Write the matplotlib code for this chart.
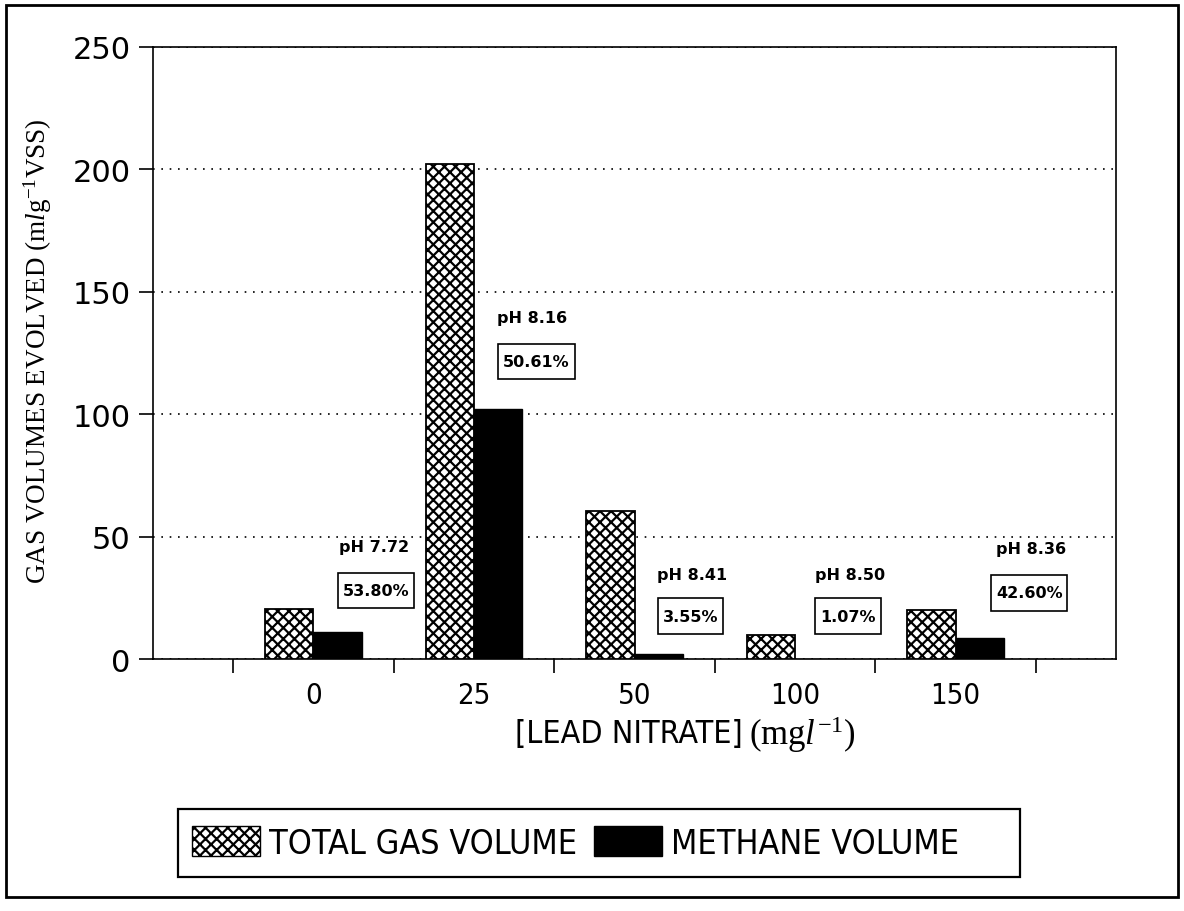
import matplotlib
matplotlib.use('Agg')
import matplotlib.pyplot as plt
from matplotlib.patches import Rectangle, Patch
from matplotlib.path import Path
import numpy as np

# 데이터
concentrations = ['0', '25', '50', '100', '150']
total_gas = [20.4, 202, 60.5, 10, 20]
methane = [11, 102, 2.2, 0.11, 8.6]
ph_labels = ['pH 7.72', 'pH 8.16', 'pH 8.41', 'pH 8.50', 'pH 8.36']
pct_labels = ['53.80%', '50.61%', '3.55%', '1.07%', '42.60%']

# 주석 위치 (그룹 단위 x, 데이터 y)
ph_x = [0.375, 1.36, 2.36, 3.34, 4.47]
pct_x = [0.39, 1.39, 2.35, 3.33, 4.46]
ph_y = [46, 139.5, 34.7, 34.7, 45]
pct_y = [28, 121.5, 17.5, 17.5, 27]

plt.rcParams['hatch.linewidth'] = 1.6
plt.rcParams['mathtext.fontset'] = 'custom'
plt.rcParams['mathtext.rm'] = 'Liberation Serif'
plt.rcParams['mathtext.it'] = 'Liberation Serif:italic'


# 세로로 여백이 큰 사각형 박스
def tall_box(x0, y0, width, height, mutation_size):
    px = 0.3 * mutation_size
    py = 0.65 * mutation_size
    x1, y1 = x0 + width + px, y0 + height + py
    x0, y0 = x0 - px, y0 - py
    return Path([(x0, y0), (x1, y0), (x1, y1), (x0, y1), (x0, y0)], closed=True)


fig = plt.figure(figsize=(11.84, 9.12), dpi=100)
ax = fig.add_axes([0.1292, 0.2763, 0.8134, 0.6711])

x = np.arange(len(concentrations))
w = 0.3
ax.bar(x - w / 2, total_gas, w, facecolor='white', edgecolor='black',
       hatch='xxx', linewidth=1.3, zorder=3)
ax.bar(x + w / 2, methane, w, color='black', edgecolor='black', zorder=3)

ax.set_xlim(-1, 5)
ax.set_ylim(0, 250)
ax.set_yticks(np.arange(0, 251, 50))
ax.set_yticklabels([str(v) for v in range(0, 251, 50)], fontsize=22,
                   family='DejaVu Sans')
ax.yaxis.grid(True, linestyle=(0, (1, 4)), color='black', linewidth=1.2)
ax.set_axisbelow(True)

# x 눈금: 그룹 사이 경계에 틱, 라벨은 그룹 중앙
ax.set_xticks(np.arange(-0.5, 5, 1))
ax.set_xticklabels([])
ax.set_xticks(x, minor=True)
ax.set_xticklabels(concentrations, minor=True, fontsize=21,
                   family='DejaVu Sans', stretch='condensed')
ax.tick_params(axis='x', which='minor', length=0, pad=16)
ax.tick_params(axis='x', which='major', length=10, width=1.2, direction='out')
ax.tick_params(axis='y', length=10, width=1.2, direction='out', pad=6)
for s in ax.spines.values():
    s.set_linewidth(1.2)

# 주석
for i in range(len(concentrations)):
    ax.text(ph_x[i], ph_y[i], ph_labels[i], ha='center', va='center',
            fontsize=11.5, fontweight='bold', family='DejaVu Sans', zorder=4)
    ax.text(pct_x[i], pct_y[i], pct_labels[i], ha='center', va='center',
            fontsize=11.5, fontweight='bold', family='DejaVu Sans', zorder=4,
            bbox=dict(boxstyle=tall_box, facecolor='white',
                      edgecolor='black', linewidth=1.2))

# 축 라벨
fig.text(0.032, 0.615, r'GAS VOLUMES EVOLVED (m$\mathit{l}$g$^{\mathregular{-1}}$VSS)',
         rotation=90, ha='center', va='center', fontsize=19.5,
         family='Liberation Serif')
fig.text(0.6275, 0.195, '[LEAD NITRATE]', ha='right', va='center',
         fontsize=23, family='DejaVu Sans', stretch='condensed')
fig.text(0.633, 0.195, r'(mg$\mathit{l}^{\mathregular{-1}}$)', ha='left',
         va='center', fontsize=25, family='Liberation Serif')

# 범례 (테두리는 따로 그림)
handles = [Patch(facecolor='white', edgecolor='black', hatch='xxx'),
           Patch(facecolor='black', edgecolor='black')]
fig.legend(handles, ['TOTAL GAS VOLUME', 'METHANE VOLUME'],
           loc='center left', bbox_to_anchor=(0.1503, 0.0746), ncol=2,
           frameon=False,
           prop={'family': 'DejaVu Sans', 'stretch': 'condensed', 'size': 24.5},
           handlelength=2.0, handleheight=0.95, columnspacing=0.5,
           handletextpad=0.27, borderpad=0.4, borderaxespad=0)
fig.patches.append(Rectangle((0.1503, 0.0373), 0.7111, 0.0746,
                             transform=fig.transFigure, fill=False,
                             edgecolor='black', linewidth=1.6))

# 바깥 테두리
fig.patches.append(Rectangle((0.005, 0.015), 0.99, 0.978, transform=fig.transFigure,
                             fill=False, edgecolor='black', linewidth=2))

fig.savefig('out.png', dpi=100)
